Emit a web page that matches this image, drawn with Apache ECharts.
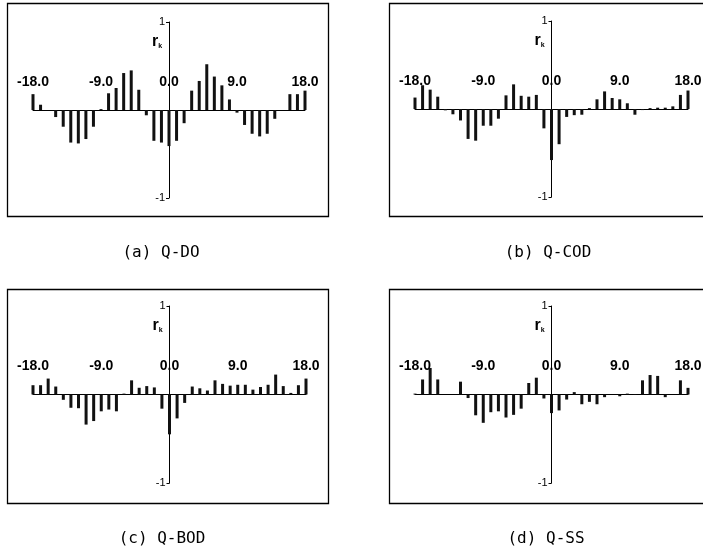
<!DOCTYPE html>
<html>
<head>
<meta charset="utf-8">
<script src="https://cdn.jsdelivr.net/npm/echarts@6/dist/echarts.min.js"></script>
<style>
html,body{margin:0;padding:0;background:#fff;}
#c{width:703px;height:552px;}
</style>
</head>
<body>
<div id="c"></div>
<script>
// lags k
const lags = [-18,-17,-16,-15,-14,-13,-12,-11,-10,-9,-8,-7,-6,-5,-4,-3,-2,-1,0,1,2,3,4,5,6,7,8,9,10,11,12,13,14,15,16,17,18];
// cross-correlation r_k values
const qDO  = [0.18,0.06,0,-0.08,-0.19,-0.37,-0.38,-0.33,-0.19,0.01,0.19,0.25,0.42,0.45,0.23,-0.06,-0.35,-0.37,-0.41,-0.35,-0.15,0.22,0.33,0.52,0.38,0.28,0.12,-0.03,-0.17,-0.27,-0.30,-0.27,-0.10,0,0.18,0.18,0.22];
const qCOD = [0.13,0.27,0.22,0.14,-0.015,-0.06,-0.13,-0.34,-0.36,-0.19,-0.19,-0.11,0.155,0.28,0.15,0.14,0.16,-0.22,-0.58,-0.40,-0.09,-0.07,-0.065,0.01,0.11,0.2,0.125,0.11,0.065,-0.065,-0.012,0.01,0.015,0.015,0.03,0.16,0.21];
const qBOD = [0.105,0.105,0.18,0.09,-0.06,-0.15,-0.155,-0.34,-0.30,-0.19,-0.17,-0.19,0.01,0.16,0.076,0.095,0.08,-0.16,-0.45,-0.27,-0.095,0.09,0.07,0.045,0.16,0.12,0.10,0.11,0.11,0.055,0.085,0.11,0.225,0.095,0.018,0.105,0.18];
const qSS  = [0.01,0.17,0.30,0.17,0,0,0.145,-0.04,-0.235,-0.32,-0.2,-0.19,-0.26,-0.23,-0.16,0.13,0.19,-0.045,-0.21,-0.18,-0.057,0.027,-0.11,-0.083,-0.11,-0.03,0,-0.02,0.01,0.005,0.16,0.22,0.21,-0.03,0,0.16,0.075];
const xTicks = [-18, -9, 0, 9, 18];
const yTicks = [-1, 1];
const captions = ['(a) Q-DO', '(b) Q-COD', '(c) Q-BOD', '(d) Q-SS'];
const seriesValues = [qDO, qCOD, qBOD, qSS];

const labFont = '"Liberation Sans",Arial,sans-serif';
const panels = [
  {grid:{left:33, top:22, width:272, height:176}, frame:[7.5,3.5,321,213], cap:[161,253]},
  {grid:{left:415, top:21, width:273, height:176}, frame:[389.5,3.5,316,213], cap:[548,253]},
  {grid:{left:33, top:306, width:273, height:177}, frame:[7.5,289.5,321,214], cap:[162,539]},
  {grid:{left:415, top:306, width:273, height:177}, frame:[389.5,289.5,316,214], cap:[546,539]}
];

const grid = [], xAxis = [], yAxis = [], series = [], graphic = [];
panels.forEach((p, i) => {
  grid.push(Object.assign({containLabel:false, outerBoundsMode:'none'}, p.grid));
  xAxis.push({
    type:'value', gridIndex:i, position:'top', offset:-p.grid.height/2, min:-18, max:18, interval:9,
    axisLine:{onZero:false, lineStyle:{color:'#000', width:1}},
    axisTick:{show:false}, splitLine:{show:false},
    axisLabel:{margin:21, color:'#000', fontFamily:labFont, fontWeight:'bold', fontSize:14,
      showMinLabel:true, showMaxLabel:true, customValues:xTicks,
      formatter:v => v.toFixed(1)}
  });
  yAxis.push({
    type:'value', gridIndex:i, position:'left', offset:-p.grid.width/2, min:-1, max:1,
    axisLine:{show:true, onZero:false, lineStyle:{color:'#000', width:1}},
    axisTick:{show:true, length:3, customValues:yTicks, lineStyle:{color:'#000'}},
    splitLine:{show:false},
    axisLabel:{margin:4, color:'#000', fontFamily:labFont, fontSize:11, customValues:yTicks, formatter:v => String(v)}
  });
  series.push({
    type:'bar', xAxisIndex:i, yAxisIndex:i, barWidth:3, clip:false,
    itemStyle:{color:'#111'},
    data: lags.map((k, j) => [k, seriesValues[i][j]])
  });
  graphic.push({type:'rect', silent:true, shape:{x:p.frame[0], y:p.frame[1], width:p.frame[2], height:p.frame[3]},
    style:{fill:'none', stroke:'#000', lineWidth:1.3}});
  const ax = p.grid.left + p.grid.width/2;
  graphic.push({type:'text', silent:true, x:ax-17, y:p.grid.top+11,
    style:{text:'{r|r}{k|k}', rich:{
      r:{fontFamily:labFont, fontWeight:'bold', fontSize:16, fill:'#000'},
      k:{fontFamily:labFont, fontWeight:'bold', fontSize:7, fill:'#000', padding:[10,0,0,0]}}}});
  graphic.push({type:'text', silent:true, x:p.cap[0], y:p.cap[1],
    style:{text:captions[i], fontFamily:'"DejaVu Sans Mono",monospace', fontSize:16, fill:'#000',
      textAlign:'center', textVerticalAlign:'middle'}});
});

const chart = echarts.init(document.getElementById('c'), null, {renderer:'canvas'});
chart.setOption({animation:false, backgroundColor:'#fff', grid, xAxis, yAxis, series, graphic});
</script>
</body>
</html>
